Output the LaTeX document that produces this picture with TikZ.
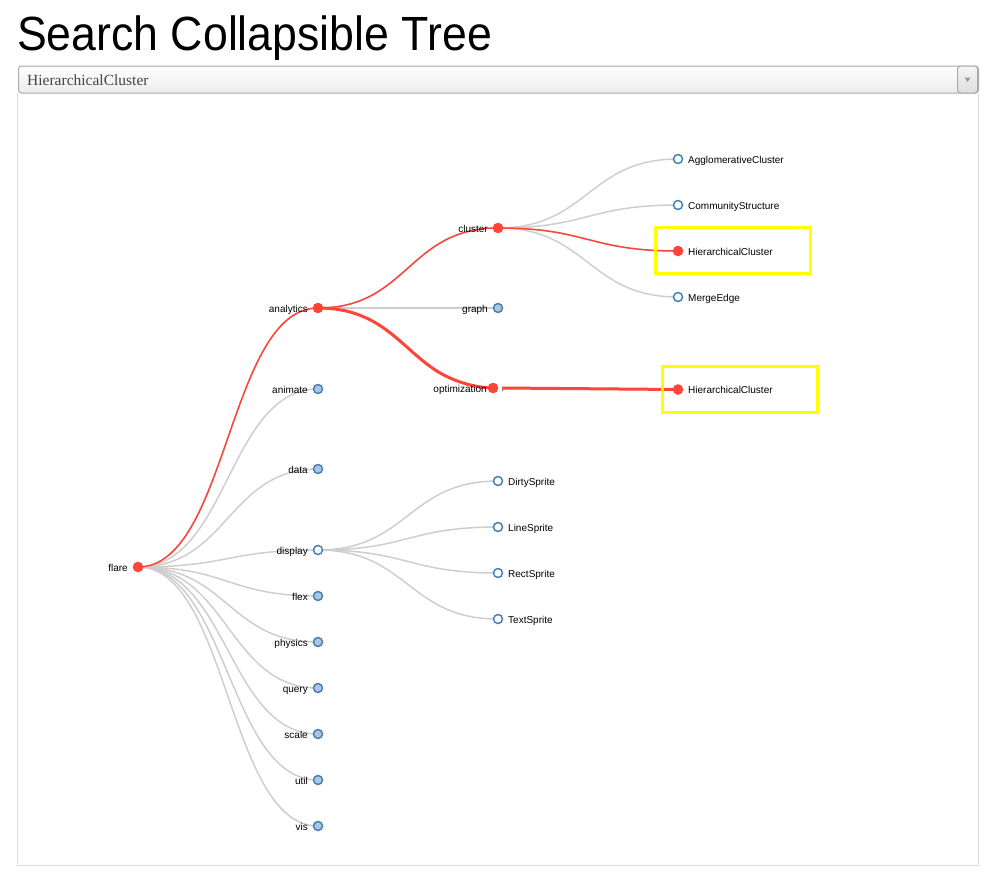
\documentclass[tikz,border=0pt]{standalone}
\usepackage{fontspec}
\setmainfont{Liberation Sans}
\newfontfamily\seriffont{Liberation Serif}
\usetikzlibrary{calc,backgrounds}
\definecolor{nred}{RGB}{255,68,56}
\definecolor{lgrey}{RGB}{206,206,206}
\definecolor{sblue}{RGB}{70,130,180}
\definecolor{lsblue}{RGB}{176,196,222}
\definecolor{yel}{RGB}{255,255,0}
\definecolor{framegrey}{RGB}{222,222,222}
\definecolor{boxgrey}{RGB}{170,170,170}
\definecolor{seltext}{RGB}{68,68,68}
\tikzset{
  lk/.style={draw=lgrey, line width=1.5pt},
  rlk/.style={draw=nred, line width=1.5pt},
  rthick/.style={draw=nred, line width=3pt},
  leafc/.style={circle, draw=sblue, line width=1.5pt, fill=white, minimum size=9pt, inner sep=0pt},
  collc/.style={leafc, fill=lsblue},
  redc/.style={circle, draw=nred, fill=nred, line width=1.5pt, minimum size=9pt, inner sep=0pt},
  lab/.style={font=\fontsize{10}{12}\selectfont, inner sep=0pt, text=black},
  lL/.style={lab, anchor=base east},
  lR/.style={lab, anchor=base west},
  hibox/.style={draw=yel, line width=3pt},
}
\newcommand\diag[3][lk]{\draw[#1] let \p1=(#2.center), \p2=(#3.center), \p3=($(\p1)!.5!(\p2)$) in (\p1) .. controls (\x3,\y1) and (\x3,\y2) .. (\p2);}
\newcommand\labL[2]{\node[lL] (#1-l) at ([shift={(-10pt,-4pt)}]#1.center) {#2};}
\newcommand\labR[2]{\node[lR] (#1-l) at ([shift={(10pt,-4pt)}]#1.center) {#2};}
\begin{document}
\begin{tikzpicture}[x=1pt,y=-1pt]
\useasboundingbox (0,0) rectangle (996,878);
% title
\node[anchor=base west, inner sep=0pt, font=\fontsize{48}{56}\selectfont, xscale=0.93] (title) at (17,50) {Search Collapsible Tree};
% dropdown
\node[draw=boxgrey, line width=1pt, rounded corners=3pt, top color=white, bottom color={rgb,255:red,236;green,236;blue,236}, minimum width=960pt, minimum height=27pt, anchor=north west, inner sep=0pt] (sel) at (18,65.5) {};
\node[draw=boxgrey, line width=1pt, rounded corners=3pt, top color={rgb,255:red,245;green,245;blue,245}, bottom color={rgb,255:red,222;green,222;blue,222}, minimum width=20pt, minimum height=27pt, anchor=north east, inner sep=0pt] (btn) at (978,65.5) {};
\fill[boxgrey!90!black] ([shift={(-3pt,2pt)}]btn.center) -- ([shift={(3pt,2pt)}]btn.center) -- ([shift={(0pt,-2.5pt)}]btn.center) -- cycle;
\node[anchor=base west, inner sep=0pt, font=\seriffont\fontsize{15.5}{18}\selectfont, text=seltext] (seltxt) at (27,85.5) {HierarchicalCluster};
% frame
\draw[framegrey, line width=1pt] (17.5,92.5) -- (17.5,865.5) -- (978.5,865.5) -- (978.5,92.5);
% nodes
\node[redc] (flare) at (138,567) {};
\node[redc] (analytics) at (318,308) {};
\node[collc] (animate) at (318,389) {};
\node[collc] (data) at (318,469) {};
\node[leafc] (display) at (318,550) {};
\node[collc] (flex) at (318,596) {};
\node[collc] (physics) at (318,642) {};
\node[collc] (query) at (318,688) {};
\node[collc] (scale) at (318,734) {};
\node[collc] (util) at (318,780) {};
\node[collc] (vis) at (318,826) {};
\node[redc] (cluster) at (498,228) {};
\node[collc] (graph) at (498,308) {};
\node[redc] (optimization) at (493,388) {};
\node[leafc] (dirty) at (498,481) {};
\node[leafc] (line) at (498,527) {};
\node[leafc] (rect) at (498,573) {};
\node[leafc] (text) at (498,619) {};
\node[leafc] (agglo) at (678,159) {};
\node[leafc] (comm) at (678,205) {};
\node[redc] (hc) at (678,251) {};
\node[leafc] (merge) at (678,297) {};
\node[redc] (hcb) at (678,389.5) {};
% labels
\labL{flare}{flare}
\labL{analytics}{analytics}
\labL{animate}{animate}
\labL{data}{data}
\labL{display}{display}
\labL{flex}{flex}
\labL{physics}{physics}
\labL{query}{query}
\labL{scale}{scale}
\labL{util}{util}
\labL{vis}{vis}
\labL{cluster}{cluster}
\labL{graph}{graph}
\node[lL] (optimization-l) at ([shift={(-6pt,-4pt)}]optimization.center) {optimization};
\labR{dirty}{DirtySprite}
\labR{line}{LineSprite}
\labR{rect}{RectSprite}
\labR{text}{TextSprite}
\labR{agglo}{AgglomerativeCluster}
\labR{comm}{CommunityStructure}
\labR{hc}{HierarchicalCluster}
\labR{merge}{MergeEdge}
\labR{hcb}{HierarchicalCluster}
% highlight boxes
\draw[hibox] (655,227) rectangle (810,273);
\draw[hibox] (662,366) rectangle (817,412);
% links
\begin{scope}[on background layer]
\foreach \c in {analytics,animate,data,display,flex,physics,query,scale,util,vis} {\diag{flare}{\c}}
\diag{analytics}{cluster}
\diag{analytics}{graph}
\coordinate (optend) at (498,388);
\diag{analytics}{optend}
\foreach \c in {agglo,comm,hc,merge} {\diag{cluster}{\c}}
\foreach \c in {dirty,line,rect,text} {\diag{display}{\c}}
\diag[rlk]{flare}{analytics}
\diag[rlk]{analytics}{cluster}
\diag[rlk]{cluster}{hc}
\coordinate (kink) at (439.6,372.7);
\draw[rthick] (analytics.center) .. controls (382.8,308) and (400.9,349.5) .. (kink) .. controls (456,382) and (474,387.5) .. (optimization.center);
\coordinate (hstart) at (502,388);
\draw[rthick] (hstart) -- (hcb.center);
\draw[sblue, line width=1pt] (502,388.5) -- (502,391);
\end{scope}
\end{tikzpicture}
\end{document}
